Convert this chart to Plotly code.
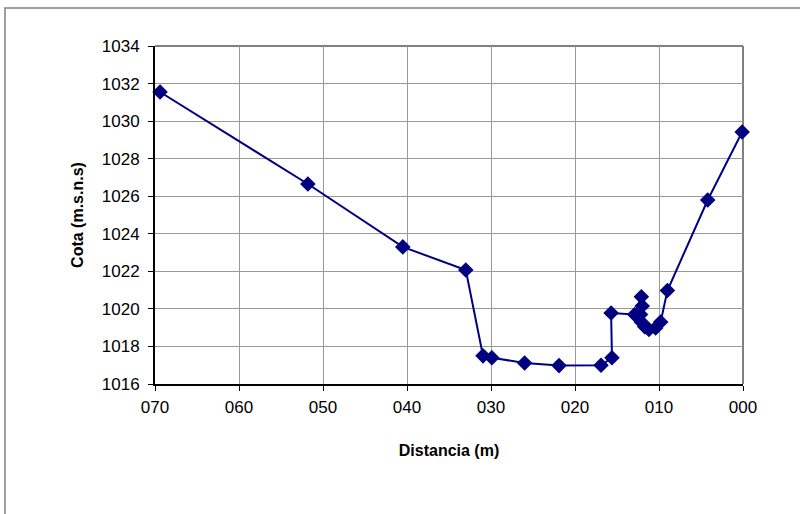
import plotly.graph_objects as go

# Cross-section profile: distance along the section (m) vs. elevation (m.s.n.s)
distancia = [69.4, 51.8, 40.5, 33.0, 30.95, 29.9, 26.0, 21.9, 16.9, 15.6, 15.7,
             12.9, 12.1, 12.0, 12.2, 12.1, 11.7, 11.2, 10.4, 9.8, 9.0, 4.2, 0.1]
cota = [1031.55, 1026.65, 1023.3, 1022.07, 1017.5, 1017.4, 1017.12, 1016.98, 1017.0,
        1017.4, 1019.78, 1019.7, 1020.65, 1020.15, 1019.7, 1019.3, 1019.05, 1018.9,
        1018.98, 1019.3, 1020.98, 1025.8, 1029.42]

x_ticks = [70, 60, 50, 40, 30, 20, 10, 0]
x_ticktext = ["070", "060", "050", "040", "030", "020", "010", "000"]
y_ticks = list(range(1016, 1035, 2))

navy = "#000080"
font_family = "Liberation Sans, Arial, sans-serif"

fig = go.Figure()
fig.add_trace(go.Scatter(
    x=distancia, y=cota, mode="lines+markers",
    line=dict(color=navy, width=2),
    marker=dict(symbol="diamond", size=12, color=navy),
    showlegend=False, cliponaxis=False,
))

fig.update_layout(
    width=800, height=514,
    margin=dict(l=155, r=57, t=46, b=130),
    paper_bgcolor="white", plot_bgcolor="white",
    font=dict(family=font_family, size=17, color="black"),
    xaxis=dict(
        range=[70, 0], tickvals=x_ticks, ticktext=x_ticktext,
        showgrid=True, gridcolor="#999999", gridwidth=1,
        showline=True, linecolor="black", linewidth=2,
        ticks="outside", ticklen=5, tickcolor="black",
        ticklabelstandoff=2,
        zeroline=False,
        title=dict(text="<b>Distancia (m)</b>", font=dict(size=16), standoff=28),
    ),
    yaxis=dict(
        range=[1016, 1034], tickvals=y_ticks,
        showgrid=True, gridcolor="#999999", gridwidth=1,
        showline=True, linecolor="black", linewidth=2,
        ticks="outside", ticklen=5, tickcolor="black",
        ticklabelstandoff=5,
        zeroline=False,
        title=dict(text="<b>Cota (m.s.n.s)</b>", font=dict(size=16), standoff=14),
    ),
    shapes=[
        # plot-area border on the top and right
        dict(type="line", xref="paper", yref="paper", x0=0, x1=1, y0=1, y1=1,
             line=dict(color="#808080", width=2), layer="below"),
        dict(type="line", xref="paper", yref="paper", x0=1, x1=1, y0=0, y1=1,
             line=dict(color="#808080", width=2), layer="below"),
        # outer chart frame
        dict(type="rect", xref="paper", yref="paper",
             x0=-150 / 588, x1=1.2, y0=-1.0, y1=(514 - 46 - 130 + 38) / 338,
             line=dict(color="#808080", width=1.5)),
    ],
)

fig.write_html("out.html")
